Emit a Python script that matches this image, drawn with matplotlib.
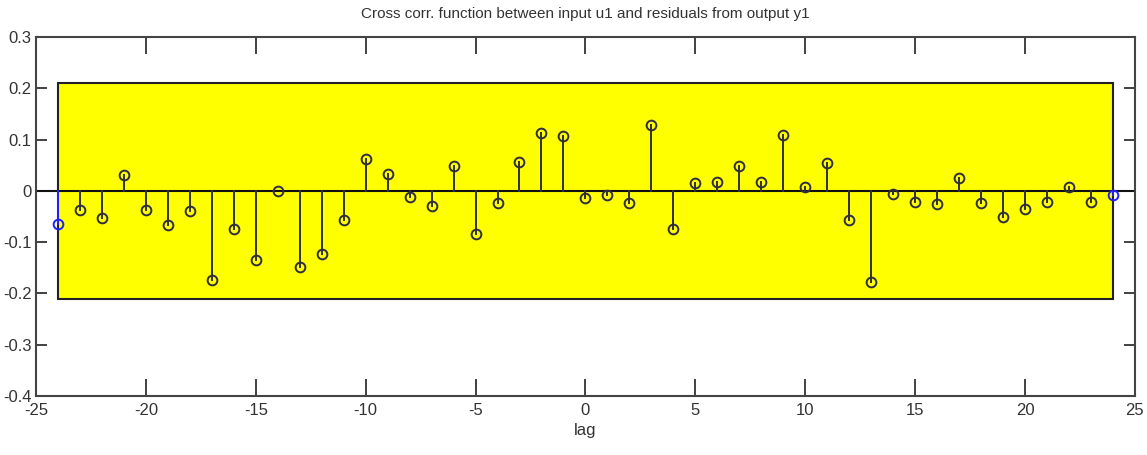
import numpy as np
import matplotlib
matplotlib.use('Agg')
import matplotlib.pyplot as plt
from matplotlib.patches import Rectangle

plt.rcParams['font.family'] = ['Liberation Sans Narrow', 'Liberation Sans', 'DejaVu Sans']

# 互相关系数（滞后 -24 ~ 24）
lags = np.arange(-24, 25)
xcorr = [-0.065, -0.037, -0.052, 0.031, -0.037, -0.067, -0.039, -0.173,
         -0.074, -0.134, 0.000, -0.149, -0.124, -0.056, 0.063, 0.032,
         -0.012, -0.030, 0.048, -0.085, -0.023, 0.057, 0.113, 0.106,
         -0.014, -0.009, -0.023, 0.128, -0.074, 0.015, 0.017, 0.048,
         0.018, 0.109, 0.008, 0.054, -0.056, -0.178, -0.006, -0.022,
         -0.026, 0.026, -0.023, -0.051, -0.036, -0.021, 0.007, -0.022,
         -0.009]
conf = 0.21   # 置信区间

fig = plt.figure(figsize=(11.47, 4.55), dpi=100)
ax = fig.add_axes([0.0314, 0.1297, 0.958, 0.789])

# 黄色置信区域
ax.add_patch(Rectangle((lags[0], -conf), lags[-1] - lags[0], 2 * conf,
                       facecolor='#ffff00', edgecolor='#222222',
                       linewidth=1.5, zorder=1))

# 基线
ax.axhline(0, color='#111111', linewidth=1.5, zorder=2)

stem_col = '#2e2e3e'
edge_lags = (lags[0], lags[-1])
for lg, v in zip(lags, xcorr):
    c = '#2020ff' if lg in edge_lags else stem_col
    ax.plot([lg, lg], [0, v], color=c, linewidth=1.4, zorder=3)
    ax.plot(lg, v, 'o', markersize=7, markerfacecolor='none',
            markeredgecolor=c, markeredgewidth=1.4, zorder=4)

ax.set_xlim(-25, 25)
ax.set_ylim(-0.4, 0.3)
ax.set_xticks(np.arange(-25, 26, 5))
ax.set_yticks(np.arange(-0.4, 0.31, 0.1))
ax.set_xticklabels([str(t) for t in range(-25, 26, 5)])
ax.set_yticklabels(['-0.4', '-0.3', '-0.2', '-0.1', '0', '0.1', '0.2', '0.3'])

ax.tick_params(axis='x', direction='in', length=12, width=1.3,
               top=True, labelsize=12, colors='#333333', pad=5)
ax.tick_params(axis='y', direction='in', length=8, width=1.3,
               right=True, labelsize=12, colors='#333333', pad=3)
for s in ax.spines.values():
    s.set_color('#444444')
    s.set_linewidth(1.5)

ax.set_title('Cross corr. function between input u1 and residuals from output y1',
             fontsize=11, color='#333333', pad=14)
ax.set_xlabel('lag', fontsize=12, color='#333333', labelpad=4)

fig.savefig('out.png', dpi=100)
